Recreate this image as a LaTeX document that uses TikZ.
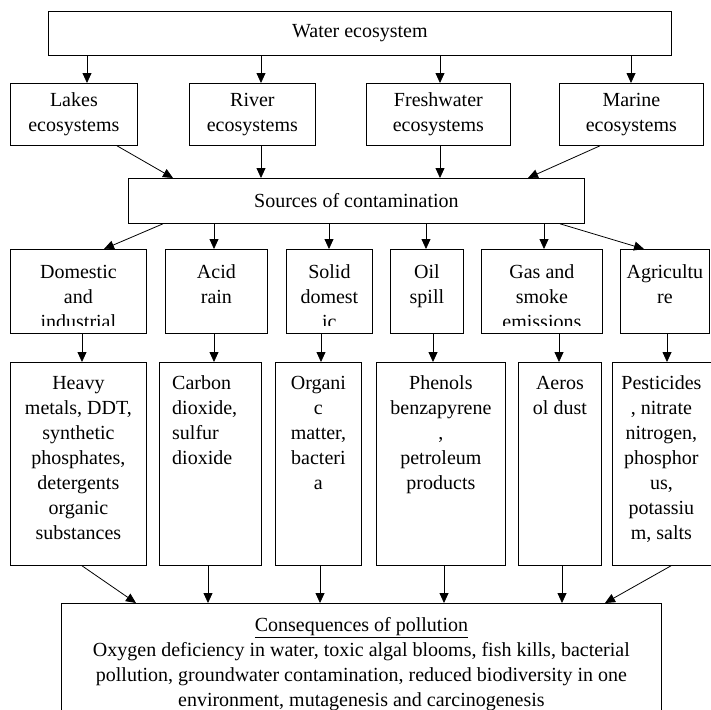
\documentclass[tikz,border=0pt]{standalone}
\usepackage{fontspec}
\setmainfont{Liberation Serif}
\usetikzlibrary{arrows.meta}

\begin{document}
\begin{tikzpicture}[x=1pt,y=-1pt, >={Triangle[length=10pt,width=9pt]},
    every node/.style={font=\fontsize{20}{25}\selectfont},
    box/.style={draw, line width=0.8pt, anchor=north west, inner sep=0pt, align=center},
    txt/.style={anchor=north, inner sep=0pt, align=center},
    link/.style={->, line width=0.8pt}]
    \useasboundingbox (0,0) rectangle (711,709);

% top and ecosystems
\node[box, minimum width=623pt, minimum height=44pt] (water) at (48,11) {Water ecosystem};
\node[box, minimum width=127pt, minimum height=62pt] (lakes) at (10,83) {Lakes\\ecosystems};
\node[box, minimum width=126pt, minimum height=62pt] (river) at (189,83) {River\\ecosystems};
\node[box, minimum width=144pt, minimum height=62pt] (fresh) at (366,83) {Freshwater\\ecosystems};
\node[box, minimum width=144pt, minimum height=62pt] (marine) at (559,83) {Marine\\ecosystems};
\node[box, minimum width=456pt, minimum height=45pt] (src) at (128,178) {Sources of contamination};

% sources
\node[box, minimum width=136pt, minimum height=84pt] (dom) at (10,249) {};
\node[box, minimum width=102pt, minimum height=84pt] (acid) at (165,249) {};
\node[box, minimum width=86pt, minimum height=84pt] (solid) at (286,249) {};
\node[box, minimum width=73pt, minimum height=84pt] (oil) at (390,249) {};
\node[box, minimum width=121pt, minimum height=84pt] (gas) at (481,249) {};
\node[box, minimum width=89pt, minimum height=84pt] (agri) at (620,249) {};

\begin{scope}
    \clip (dom.north west) rectangle ([yshift=8pt]dom.south east);
    \node[txt, yshift=-12pt] (domtxt) at (dom.north) {\strut Domestic\\and\\industrial};
\end{scope}
\node[txt, yshift=-12pt] (acidtxt) at (acid.north) {\strut Acid\\rain};
\begin{scope}
    \clip (solid.north west) rectangle ([yshift=8pt]solid.south east);
    \node[txt, yshift=-12pt] (solidtxt) at (solid.north) {\strut Solid\\domest\\ic};
\end{scope}
\node[txt, yshift=-12pt] (oiltxt) at (oil.north) {\strut Oil\\spill};
\begin{scope}
    \clip (gas.north west) rectangle ([yshift=8pt]gas.south east);
    \node[txt, yshift=-12pt] (gastxt) at (gas.north) {\strut Gas and\\smoke\\emissions};
\end{scope}
\node[txt, yshift=-12pt] (agritxt) at (agri.north) {\strut Agricultu\\re};

% pollutants
\node[box, minimum width=136pt, minimum height=203pt] (heavy) at (10,362) {};
\node[box, minimum width=102pt, minimum height=203pt] (carbon) at (159,362) {};
\node[box, minimum width=86pt, minimum height=203pt] (organic) at (275,362) {};
\node[box, minimum width=129pt, minimum height=203pt] (phenols) at (376,362) {};
\node[box, minimum width=83pt, minimum height=203pt] (aeros) at (518,362) {};
\node[box, minimum width=100pt, minimum height=203pt] (pest) at (612,362) {};

\node[txt, yshift=-10pt] (heavytxt) at (heavy.north) {\strut Heavy\\metals, DDT,\\synthetic\\phosphates,\\detergents\\organic\\substances};
\node[txt, anchor=north west, align=left, xshift=13pt, yshift=-10pt] (carbontxt) at (carbon.north west) {\strut Carbon\\dioxide,\\sulfur\\dioxide};
\node[txt, yshift=-10pt] (organictxt) at (organic.north) {\strut Organi\\c\\matter,\\bacteri\\a};
\node[txt, yshift=-10pt] (phenolstxt) at (phenols.north) {\strut Phenols\\benzapyrene\\,\\petroleum\\products};
\node[txt, yshift=-10pt] (aerostxt) at (aeros.north) {\strut Aeros\\ol dust};
\node[txt, xshift=-1pt, yshift=-10pt] (pesttxt) at (pest.north) {\strut Pesticides\\, nitrate\\nitrogen,\\phosphor\\us,\\potassiu\\m, salts};

% consequences
\node[box, minimum width=600pt, minimum height=115pt] (cons) at (61,603) {};
\node[txt, yshift=-11pt] (constxt) at (cons.north) {\strut\underline{Consequences of pollution}\\Oxygen deficiency in water, toxic algal blooms, fish kills, bacterial\\pollution, groundwater contamination, reduced biodiversity in one\\environment, mutagenesis and carcinogenesis};

% arrows
\foreach \n/\x in {lakes/87, river/261, fresh/440, marine/631}
    \draw[link] (water.south -| \x,0) -- (\n.north -| \x,0);
\foreach \n/\a/\b in {lakes/117/173, river/261/261, fresh/440/440, marine/600/528}
    \draw[link] (\n.south -| \a,0) -- (src.north -| \b,0);
\foreach \n/\a/\b in {dom/163/104, acid/214/214, solid/329/329, oil/426/426, gas/544/544, agri/560/644}
    \draw[link] (src.south -| \a,0) -- (\n.north -| \b,0);
\foreach \n/\m/\x in {dom/heavy/82, acid/carbon/214, solid/organic/321, oil/phenols/433, gas/aeros/559, agri/pest/667}
    \draw[link] (\n.south -| \x,0) -- (\m.north -| \x,0);
\foreach \n/\a/\b in {heavy/82/136, carbon/208/208, organic/320/320, phenols/444/444, aeros/562/562, pest/671/605}
    \draw[link] (\n.south -| \a,0) -- (cons.north -| \b,0);

\end{tikzpicture}
\end{document}
